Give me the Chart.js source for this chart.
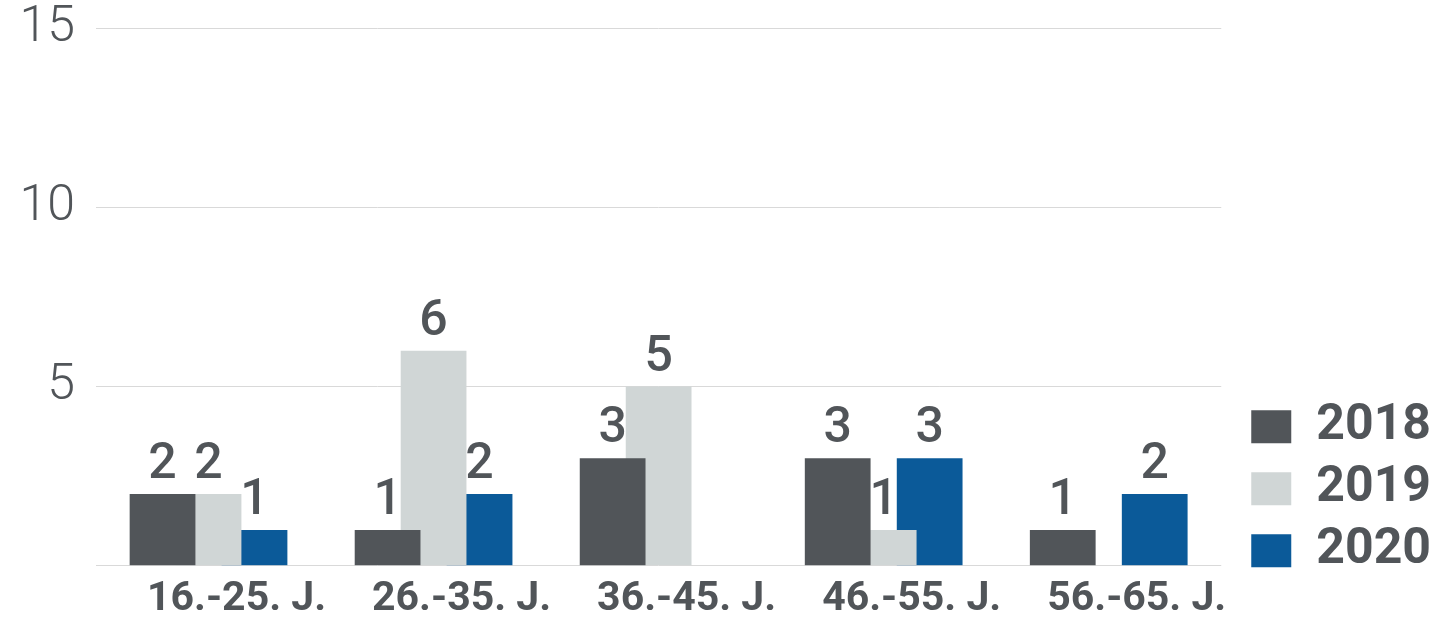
<!DOCTYPE html>
<html>
<head>
<meta charset="utf-8">
<script src="https://cdn.jsdelivr.net/npm/chart.js@4/dist/chart.umd.min.js"></script>
<style>
  html, body { margin: 0; padding: 0; background: #ffffff; }
  #wrap { width: 1455px; height: 624px; }
</style>
</head>
<body>
<div id="wrap"><canvas id="chart" width="1455" height="624"></canvas></div>
<script>
// Age groups and counts per year
const categories = ['16.-25. J.', '26.-35. J.', '36.-45. J.', '46.-55. J.', '56.-65. J.'];
const years = ['2018', '2019', '2020'];
const values2018 = [2, 1, 3, 3, 1];
const values2019 = [2, 6, 5, 1, null];
const values2020 = [1, 2, null, 3, 2];
const yTicks = [0, 5, 10, 15];

const TEXT = '#515559';
const COLORS = ['#515559', '#d0d6d6', '#0b5a99'];
const FONT = 'Roboto, "Liberation Sans", sans-serif';

// Value labels above each bar
const valueLabels = {
  id: 'valueLabels',
  afterDatasetsDraw(chart) {
    const ctx = chart.ctx;
    ctx.save();
    ctx.font = '500 50px ' + FONT;
    ctx.fillStyle = TEXT;
    ctx.textAlign = 'center';
    ctx.textBaseline = 'alphabetic';
    chart.data.datasets.forEach((ds, i) => {
      const meta = chart.getDatasetMeta(i);
      meta.data.forEach((bar, j) => {
        const v = ds.data[j];
        if (v === null || v === undefined) return;
        ctx.fillText(String(v), bar.x, bar.y - 16);
      });
    });
    ctx.restore();
  }
};

// Move the legend block down so it sits on the baseline
const legendNudge = {
  id: 'legendNudge',
  afterLayout(chart) {
    const lg = chart.legend;
    if (!lg) return;
    lg.top += 22;
    lg.bottom += 22;
  }
};

new Chart(document.getElementById('chart'), {
  type: 'bar',
  data: {
    labels: categories,
    datasets: [
      { label: years[0], data: values2018, backgroundColor: COLORS[0] },
      { label: years[1], data: values2019, backgroundColor: COLORS[1] },
      { label: years[2], data: values2020, backgroundColor: COLORS[2] }
    ]
  },
  options: {
    responsive: false,
    animation: false,
    categoryPercentage: 0.613,
    barPercentage: 1.43,
    layout: { padding: { top: 28, right: 14, bottom: -1, left: 0 } },
    plugins: {
      tooltip: { enabled: false },
      legend: {
        position: 'right',
        align: 'end',
        fullSize: false,
        labels: {
          boxWidth: 40,
          boxHeight: 33,
          padding: 12,
          color: TEXT,
          font: { family: FONT, size: 50, weight: '700' }
        }
      }
    },
    scales: {
      x: {
        grid: { display: false },
        border: { display: false },
        ticks: {
          color: TEXT,
          padding: 1,
          labelOffset: 28,
          maxRotation: 0,
          autoSkip: false,
          font: { family: FONT, size: 41, weight: '700' }
        }
      },
      y: {
        min: 0,
        max: 15,
        afterBuildTicks(scale) { scale.ticks = yTicks.map(v => ({ value: v })); },
        afterFit(scale) { scale.width = 96; },
        grid: { color: '#d9d9d9', lineWidth: 1, drawTicks: false },
        border: { display: false },
        ticks: {
          color: TEXT,
          padding: 21,
          font: { family: FONT, size: 50, weight: '300', lineHeight: 0.2 },
          callback: v => (v === 0 ? '' : String(v))
        }
      },
      gap: {
        type: 'linear',
        position: 'right',
        grid: { display: false },
        border: { display: false },
        ticks: { display: false },
        afterFit(scale) { scale.width = 18; }
      }
    }
  },
  plugins: [valueLabels, legendNudge]
});
</script>
</body>
</html>
